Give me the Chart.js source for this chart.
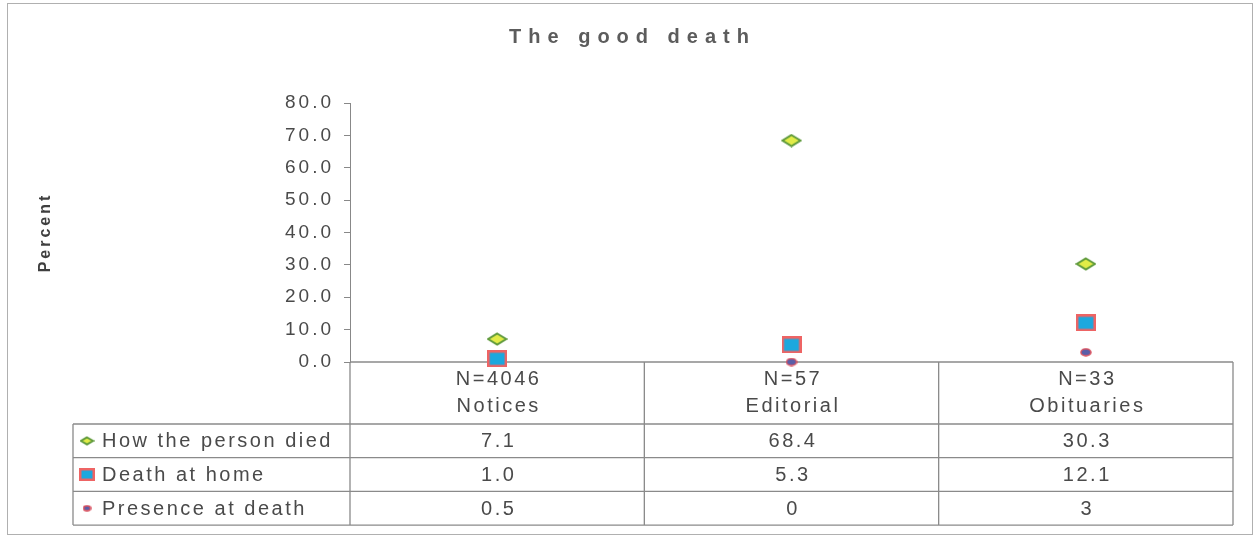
<!DOCTYPE html>
<html>
<head>
<meta charset="utf-8">
<script src="https://cdn.jsdelivr.net/npm/chart.js@4"></script>
<style>
  html, body { margin: 0; padding: 0; background: #fff; }
  #wrap { width: 1259px; height: 540px; }
</style>
</head>
<body>
<div id="wrap"><canvas id="goodDeath"></canvas></div>
<script>
// --- data ---
const sampleSizes = ['N=4046', 'N=57', 'N=33'];
const sources = ['Notices', 'Editorial', 'Obituaries'];
const seriesNames = ['How the person died', 'Death at home', 'Presence at death'];
// kept as the strings printed in the data table
const howDied = ['7.1', '68.4', '30.3'];
const deathAtHome = ['1.0', '5.3', '12.1'];
const presence = ['0.5', '0', '3'];
const yTicks = [0, 10, 20, 30, 40, 50, 60, 70, 80];

const FONT = '"Liberation Sans", Arial, sans-serif';
const TEXT = '#4a4a4a';

function makeMarker(w, h, draw) {
  const c = document.createElement('canvas');
  c.width = w; c.height = h;
  draw(c.getContext('2d'), w, h);
  return c;
}

function diamond(w, h) {
  return makeMarker(w, h, (g) => {
    g.beginPath();
    g.moveTo(w / 2, 1.5); g.lineTo(w - 1.5, h / 2);
    g.lineTo(w / 2, h - 1.5); g.lineTo(1.5, h / 2);
    g.closePath();
    g.fillStyle = '#e2ec48';
    g.fill();
    g.lineWidth = 2;
    g.strokeStyle = '#5f9a3c';
    g.stroke();
  });
}
function square(w, h) {
  return makeMarker(w, h, (g) => {
    g.fillStyle = '#ee6464';
    g.fillRect(0, 0, w, h);
    g.fillStyle = '#1ca8de';
    g.fillRect(2.5, 2.5, w - 5, h - 5);
  });
}
function dot(w, h) {
  return makeMarker(w, h, (g) => {
    g.beginPath();
    g.ellipse(w / 2, h / 2, w / 2 - 1, h / 2 - 1, 0, 0, Math.PI * 2);
    g.fillStyle = '#5a5ea8';
    g.fill();
    g.lineWidth = 1.5;
    g.strokeStyle = '#d9505e';
    g.stroke();
  });
}

const markers = [diamond(21, 14), square(20, 17), dot(12, 9)];
const legendMarkers = [diamond(15, 10), square(16, 13), dot(9, 7)];
const seriesValues = [howDied, deathAtHome, presence];

// frame, title and the data table below the plot (drawn before the points)
const tablePlugin = {
  id: 'dataTable',
  beforeDatasetsDraw(chart) {
    const ctx = chart.ctx;
    const area = chart.chartArea;
    const x = chart.scales.x;
    const n = sources.length;

    ctx.save();
    // outer frame
    ctx.strokeStyle = '#b0b0b0';
    ctx.lineWidth = 1;
    ctx.strokeRect(7.5, 3.5, 1245, 531);

    // title
    ctx.letterSpacing = '7px';
    ctx.fillStyle = '#5c5c5c';
    ctx.font = 'bold 20px ' + FONT;
    ctx.textAlign = 'center';
    ctx.textBaseline = 'middle';
    ctx.fillText('The good death', chart.width / 2 + 3, 37);

    // column edges from the category scale
    const edges = [area.left];
    for (let i = 0; i < n - 1; i++) {
      edges.push((x.getPixelForValue(i) + x.getPixelForValue(i + 1)) / 2);
    }
    edges.push(area.right);

    const top = area.bottom;
    const headBottom = top + 62;
    const rowH = 33.7;
    const bottom = headBottom + rowH * 3;
    const tableLeft = 73;

    ctx.strokeStyle = '#8a8a8a';
    ctx.lineWidth = 1.3;
    ctx.beginPath();
    ctx.moveTo(area.left, top); ctx.lineTo(area.right, top);
    for (let r = 0; r <= 3; r++) {
      const yy = headBottom + rowH * r;
      ctx.moveTo(tableLeft, yy); ctx.lineTo(area.right, yy);
    }
    ctx.moveTo(tableLeft, headBottom); ctx.lineTo(tableLeft, bottom);
    edges.forEach((ex) => { ctx.moveTo(ex, top); ctx.lineTo(ex, bottom); });
    ctx.stroke();

    ctx.letterSpacing = '2.5px';
    ctx.fillStyle = TEXT;
    ctx.font = '20px ' + FONT;
    ctx.textAlign = 'center';
    for (let i = 0; i < n; i++) {
      const cx = x.getPixelForValue(i) + 1.5;
      ctx.fillText(sampleSizes[i], cx, top + 17);
      ctx.fillText(sources[i], cx, top + 44);
    }

    for (let r = 0; r < 3; r++) {
      const cy = headBottom + rowH * r + rowH / 2;
      const m = legendMarkers[r];
      ctx.drawImage(m, 87 - m.width / 2, cy - m.height / 2);
      ctx.textAlign = 'left';
      ctx.fillText(seriesNames[r], 102, cy + 1);
      ctx.textAlign = 'center';
      for (let i = 0; i < n; i++) {
        ctx.fillText(seriesValues[r][i], x.getPixelForValue(i) + 1.5, cy + 1);
      }
    }
    ctx.restore();
  }
};

const spacingPlugin = {
  id: 'spacing',
  beforeDraw(chart) {
    chart.ctx.letterSpacing = '3px';
  }
};

new Chart(document.getElementById('goodDeath'), {
  type: 'line',
  data: {
    labels: sources,
    datasets: seriesValues.map((vals, i) => ({
      label: seriesNames[i],
      data: vals.map(Number),
      showLine: false,
      clip: false,
      pointStyle: markers[i],
      pointRadius: 8,
      pointHoverRadius: 8
    }))
  },
  options: {
    responsive: true,
    maintainAspectRatio: false,
    animation: false,
    events: [],
    layout: { padding: { top: 103, left: 20, right: 26, bottom: 178 } },
    plugins: {
      legend: { display: false },
      title: { display: false },
      tooltip: { enabled: false }
    },
    scales: {
      x: { display: false, offset: true },
      y: {
        min: 0,
        max: 80,
        afterBuildTicks(scale) {
          scale.ticks = yTicks.map((v) => ({ value: v }));
        },
        afterFit(scale) { scale.width = 330; },
        border: { display: true, color: '#888', width: 1 },
        grid: { drawOnChartArea: false, drawTicks: true, tickLength: 6, color: '#888' },
        ticks: {
          padding: 10,
          color: TEXT,
          font: { family: FONT, size: 19 },
          callback: (v) => Number(v).toFixed(1)
        },
        title: {
          display: true,
          text: 'Percent',
          color: '#3f3f3f',
          font: { family: FONT, size: 16, weight: 'bold' },
          padding: { top: 16, bottom: 0 }
        }
      }
    }
  },
  plugins: [spacingPlugin, tablePlugin]
});
</script>
</body>
</html>
